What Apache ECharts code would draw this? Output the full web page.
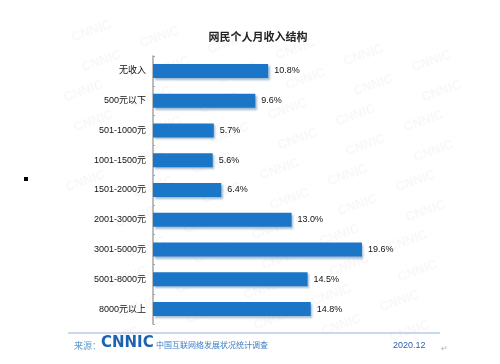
<!DOCTYPE html>
<html><head><meta charset="utf-8">
<script src="https://cdn.jsdelivr.net/npm/echarts@6/dist/echarts.min.js"></script>
<style>html,body{margin:0;padding:0;background:#fff}#c{width:500px;height:364px}</style>
</head><body><div id="c"></div>
<script>
var categories = ["无收入","500元以下","501-1000元","1001-1500元","1501-2000元","2001-3000元","3001-5000元","5001-8000元","8000元以上"];
var values = [10.8, 9.6, 5.7, 5.6, 6.4, 13.0, 19.6, 14.5, 14.8];
var titleText = "网民个人月收入结构";
var sourceLabel = "来源：";
var logoText = "CNNIC";
var surveyText = "中国互联网络发展状况统计调查";
var dateText = "2020.12";

var chart = echarts.init(document.getElementById('c'), null, {renderer:'canvas'});
var font = '"Liberation Sans","Noto Sans CJK SC",sans-serif';
var cjk = '"Noto Sans CJK SC","Liberation Sans",sans-serif';

var g = [];
// faint watermark
for (var r = 0; r < 11; r++) {
  for (var k = 0; k < 7; k++) {
    var x = 70 + k * 68 + (r % 2) * 14 - r * 4;
    var y = 18 + r * 30 + k * 6;
    if (x > 430 || x < 60 || y > 325) continue;
    g.push({type:'text', left:x, top:y, rotation:0.35, z:-10,
      style:{text:'CNNIC', fill:'rgba(200,200,200,0.12)', font:'bold 13px ' + font}});
  }
}
g.push({type:'line', shape:{x1:68,y1:333,x2:440,y2:333}, style:{stroke:'#8fb4e3', lineWidth:1}});
g.push({type:'text', left:74, top:341, style:{text:sourceLabel, fill:'#5b9bd5', font:'9px ' + cjk}});
g.push({type:'text', left:101, top:336, style:{text:logoText, fill:'#1f63b0', font:'bold 15px "DejaVu Sans",' + font}});
g.push({type:'text', left:156, top:341, style:{text:surveyText, fill:'#3a7cc4', font:'8px ' + cjk}});
g.push({type:'text', left:393, top:341, style:{text:dateText, fill:'#2f5ea8', font:'9px ' + font}});
g.push({type:'text', left:441, top:345, style:{text:'↵', fill:'#b0b0b0', font:'8px ' + font}});
g.push({type:'rect', shape:{x:24,y:177,width:4,height:4}, style:{fill:'#000'}});

chart.setOption({
  backgroundColor:'#fff',
  animation:false,
  title:{text:titleText, left:253, textAlign:'center', top:26,
    textStyle:{fontSize:11, fontWeight:'bold', color:'#222', fontFamily:cjk}},
  grid:{left:153, top:56, width:266.5, height:268, containLabel:false},
  xAxis:{type:'value', min:0, max:25, show:false},
  yAxis:{type:'category', data:categories, inverse:true,
    axisLine:{show:true, lineStyle:{color:'#a6a6a6', width:1.5}},
    axisTick:{show:true, inside:true, length:2, lineStyle:{color:'#a6a6a6'}},
    axisLabel:{fontSize:9, color:'#111', margin:7, fontFamily:font}},
  series:[{type:'bar', data:values, barWidth:14,
    itemStyle:{color:'#1c76c8', shadowColor:'rgba(90,130,170,0.55)', shadowOffsetX:1.5, shadowOffsetY:2, shadowBlur:2},
    label:{show:true, position:'right', distance:6, fontSize:9, color:'#111', fontFamily:font,
      formatter:function(p){return p.value.toFixed(1)+'%';}}}],
  graphic:g
});
</script></body></html>
